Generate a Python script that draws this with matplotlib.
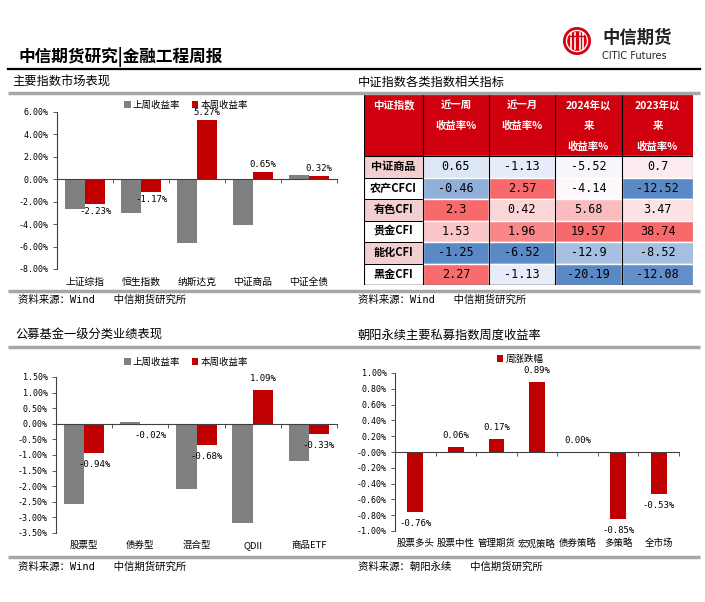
import numpy as np
import matplotlib
matplotlib.use('Agg')
import matplotlib.pyplot as plt
from matplotlib.colors import LinearSegmentedColormap, TwoSlopeNorm
from matplotlib.patches import Rectangle, Circle
from matplotlib.ticker import FuncFormatter

plt.rcParams['font.family'] = ['Noto Sans CJK SC', 'DejaVu Sans']
plt.rcParams['axes.unicode_minus'] = False

W, H = 705, 602
MONO = ['DejaVu Sans Mono', 'Noto Sans CJK SC']
GRAY = '#808080'
RED = '#C00000'
LINE = '#A6A6A6'
AXC = '#404040'

# 主要指数市场表现
idx_names = ['上证综指', '恒生指数', '纳斯达克', '中证商品', '中证全债']
idx_last = [-2.66, -2.99, -5.73, -4.06, 0.36]
idx_this = [-2.23, -1.17, 5.27, 0.65, 0.32]

# 中证指数各类指数相关指标
tbl_rows = ['中证商品', '农产CFCI', '有色CFI', '贵金CFI', '能化CFI', '黑金CFI']
tbl_head = ['中证指数', '近一周\n收益率%', '近一月\n收益率%', '2024年以\n来\n收益率%', '2023年以\n来\n收益率%']
ret_week = [0.65, -0.46, 2.3, 1.53, -1.25, 2.27]
ret_month = [-1.13, 2.57, 0.42, 1.96, -6.52, -1.13]
ret_2024 = [-5.52, -4.14, 5.68, 19.57, -12.9, -20.19]
ret_2023 = [0.7, -12.52, 3.47, 38.74, -8.52, -12.08]

# 公募基金一级分类业绩表现
fund_names = ['股票型', '债券型', '混合型', 'QDII', '商品ETF']
fund_last = [-2.57, 0.07, -2.10, -3.17, -1.18]
fund_this = [-0.94, -0.02, -0.68, 1.09, -0.33]

# 朝阳永续主要私募指数周度收益率
pf_names = ['股票多头', '股票中性', '管理期货', '宏观策略', '债券策略', '多策略', '全市场']
pf_week = [-0.76, 0.06, 0.17, 0.89, 0.00, -0.85, -0.53]


def rect(x0, y0, x1, y1):
    # pixel box -> figure fraction
    return [x0 / W, 1 - y1 / H, (x1 - x0) / W, (y1 - y0) / H]


def bar_panel(ax, names, series, colors, labels, ylim, step, width, pad, fs_cat, leg_xy):
    n = len(names)
    x = np.arange(n)
    m = len(series)
    for k, (vals, c, lab) in enumerate(zip(series, colors, labels)):
        bars = ax.bar(x + (k - (m - 1) / 2) * width, vals, width, color=c, label=lab, zorder=2)
        if k == m - 1:
            ax.bar_label(bars, fmt='%.2f%%', padding=pad, fontsize=6.5, family=MONO)
    ax.set_xlim(-0.5, n - 0.5)
    ax.set_ylim(*ylim)
    ax.set_yticks(np.arange(ylim[0], ylim[1] + step / 2, step))
    ax.yaxis.set_major_formatter(FuncFormatter(lambda v, p: f'{v:.2f}%'))
    for t in ax.get_yticklabels():
        t.set_family(MONO)
        t.set_fontsize(6)
    ax.set_xticks(np.arange(n + 1) - 0.5)
    ax.set_xticklabels([])
    ax.tick_params(axis='both', length=3, width=0.6, color=AXC, pad=3)
    ax.spines['bottom'].set_position(('data', 0))
    for s in ['top', 'right']:
        ax.spines[s].set_visible(False)
    for s in ['left', 'bottom']:
        ax.spines[s].set_color(AXC)
        ax.spines[s].set_linewidth(0.8)
    for i, name in enumerate(names):
        ax.annotate(name, xy=(i, 0), xycoords=('data', 'axes fraction'), xytext=(0, -9),
                    textcoords='offset points', ha='center', va='center', fontsize=fs_cat)
    ax.patch.set_alpha(0)
    ax.legend(loc='center', bbox_to_anchor=(leg_xy[0] / W, 1 - leg_xy[1] / H),
              bbox_transform=ax.figure.transFigure, ncol=m, frameon=False, fontsize=6.8,
              handlelength=0.7, handleheight=0.7, handletextpad=0.2, columnspacing=1.2,
              borderpad=0, borderaxespad=0)


fig = plt.figure(figsize=(W / 100, H / 100), dpi=100)

# 左上：主要指数市场表现
ax1 = fig.add_axes(rect(57, 111.7, 337, 269))
bar_panel(ax1, idx_names, [idx_last, idx_this], [GRAY, RED], ['上周收益率', '本周收益率'],
          (-8, 6), 2, 0.36, 2, 7, (186, 105))

# 左下：公募基金
ax3 = fig.add_axes(rect(56, 377, 337, 533))
bar_panel(ax3, fund_names, [fund_last, fund_this], [GRAY, RED], ['上周收益率', '本周收益率'],
          (-3.5, 1.5), 0.5, 0.36, 5, 6.8, (186, 362))

# 右下：私募指数
ax4 = fig.add_axes(rect(395, 373, 679, 531))
bar_panel(ax4, pf_names, [pf_week], [RED], ['周涨跌幅'],
          (-1, 1), 0.2, 0.39, 5, 6.8, (520, 359))

# 右上：表格
tax = fig.add_axes(rect(364, 94, 693, 285))
tax.set_xlim(0, 329)
tax.set_ylim(191, 0)
tax.axis('off')
col_x = [0, 59, 125, 191, 258, 329]
row_y = [0, 62] + [62 + 21.5 * (i + 1) for i in range(len(tbl_rows))]

tax.add_patch(Rectangle((0, 0), 329, 62, fc='#D0000F', ec='none'))
for j, head in enumerate(tbl_head):
    cx = (col_x[j] + col_x[j + 1]) / 2
    for k, line in enumerate(head.split('\n')):
        tax.text(cx, 11 + 21 * k, line, ha='center', va='center', color='white',
                 fontsize=7.5, fontweight='bold')

cmap = LinearSegmentedColormap.from_list('xl', ['#5A8AC6', '#FCFCFF', '#F8696B'])
for i, name in enumerate(tbl_rows):
    y0, y1 = row_y[i + 1], row_y[i + 2]
    fc = '#F3CFCF' if i % 2 == 0 else 'white'
    tax.add_patch(Rectangle((0, y0), col_x[1], y1 - y0, fc=fc, ec='black', lw=0.7))
    tax.text(col_x[1] / 2, (y0 + y1) / 2, name, ha='center', va='center', fontsize=8,
             fontweight='bold')

for j, col in enumerate([ret_week, ret_month, ret_2024, ret_2023]):
    v = np.array(col)
    norm = TwoSlopeNorm(vcenter=np.median(v), vmin=v.min(), vmax=v.max())
    x0, x1 = col_x[j + 1], col_x[j + 2]
    for i, val in enumerate(v):
        y0, y1 = row_y[i + 1], row_y[i + 2]
        tax.add_patch(Rectangle((x0, y0), x1 - x0, y1 - y0, fc=cmap(norm(val)), ec='white', lw=1))
        tax.text((x0 + x1) / 2, (y0 + y1) / 2, f'{val:g}', ha='center', va='center',
                 fontsize=8.5, family=MONO)

for cx in col_x:
    tax.plot([cx, cx], [0, 191], color='black', lw=0.8)
tax.plot([0, 329], [0, 0], color='black', lw=0.8)
tax.plot([0, 329], [62, 62], color='black', lw=0.8)
tax.plot([0, 329], [191, 191], color='black', lw=1.0)

# 页面上的标题、分隔线和资料来源
ov = fig.add_axes([0, 0, 1, 1])
ov.set_xlim(0, W)
ov.set_ylim(H, 0)
ov.axis('off')

ov.text(18, 57, '中信期货研究|金融工程周报', fontsize=12, fontweight='bold', va='center')
ov.plot([8, 700], [69, 69], color='black', lw=1.6)
ov.text(12, 82, '主要指数市场表现', fontsize=8.8, va='center')
ov.text(358, 82, '中证指数各类指数相关指标', fontsize=8.8, va='center')
for y in [92.5, 291, 347, 557]:
    ov.plot([8, 700], [y, y], color=LINE, lw=2.5, solid_capstyle='butt')
ov.text(15, 335, '公募基金一级分类业绩表现', fontsize=8.8, va='center')
ov.text(358, 335, '朝阳永续主要私募指数周度收益率', fontsize=8.8, va='center')
ov.text(18, 300, '资料来源：Wind   中信期货研究所', fontsize=7.5, va='center', family=MONO)
ov.text(358, 300, '资料来源：Wind   中信期货研究所', fontsize=7.5, va='center', family=MONO)
ov.text(18, 567, '资料来源：Wind   中信期货研究所', fontsize=7.5, va='center', family=MONO)
ov.text(358, 567, '资料来源：朝阳永续   中信期货研究所', fontsize=7.5, va='center', family=MONO)

# logo
ov.add_patch(Circle((577, 41), 14, fc='#D7000F', ec='none'))
ov.add_patch(Circle((577, 41), 10.5, fc='none', ec='white', lw=1.0))
for dx in [-6, -2.5, 2.5, 6]:
    ov.plot([577 + dx, 577 + dx], [33, 49], color='white', lw=1.2)
ov.plot([569, 585], [36, 36], color='#D7000F', lw=1.0)
ov.text(602, 38, '中信期货', fontsize=12.5, fontweight='bold', va='center', color='#222222')
ov.text(602, 56, 'CITIC Futures', fontsize=7, va='center', color='#222222', family='DejaVu Sans')

fig.savefig('out.png', dpi=100)
